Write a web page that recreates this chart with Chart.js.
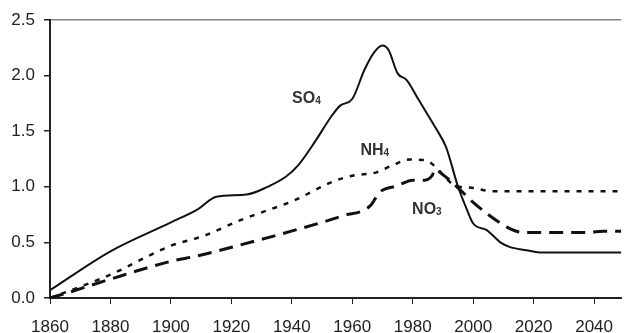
<!DOCTYPE html>
<html>
<head>
<meta charset="utf-8">
<script src="https://cdn.jsdelivr.net/npm/chart.js@4/dist/chart.umd.min.js"></script>
<style>
html, body { margin: 0; padding: 0; background: #fff; }
#wrap { width: 626px; height: 333px; position: relative; }
</style>
</head>
<body>
<div id="wrap"><canvas id="ionChart"></canvas></div>
<script>
// values
const so4Years = [1860, 1880, 1900, 1909, 1915, 1925, 1932, 1938, 1942, 1948, 1953, 1956, 1960, 1964, 1967, 1970, 1972, 1975, 1978, 1982, 1988, 1991, 1995, 1998, 2000, 2004.5, 2006.6, 2009, 2012, 2017.6, 2022, 2049];
const so4Values = [0.07, 0.42, 0.68, 0.80, 0.91, 0.93, 1.00, 1.09, 1.19, 1.42, 1.63, 1.73, 1.79, 2.05, 2.20, 2.27, 2.23, 2.02, 1.96, 1.78, 1.51, 1.36, 1.00, 0.79, 0.67, 0.61, 0.56, 0.50, 0.46, 0.43, 0.41, 0.41];

const nh4Years = [1860, 1865, 1880, 1900, 1911, 1923, 1929, 1941, 1953, 1960, 1968, 1973, 1979, 1984, 1987.5, 1990, 1994, 2000, 2006, 2049];
const nh4Values = [0.0, 0.05, 0.21, 0.47, 0.56, 0.70, 0.76, 0.88, 1.04, 1.10, 1.13, 1.19, 1.245, 1.24, 1.18, 1.11, 1.01, 0.99, 0.96, 0.96];

const no3Years = [1860, 1865, 1880, 1900, 1909, 1922, 1941, 1957, 1966, 1969, 1975, 1980, 1984, 1986.4, 1987.5, 1989, 1993.5, 2000, 2005.5, 2011, 2014.3, 2017, 2038, 2043, 2049];
const no3Values = [0.0, 0.04, 0.17, 0.33, 0.38, 0.47, 0.61, 0.74, 0.83, 0.95, 1.01, 1.06, 1.06, 1.10, 1.16, 1.13, 1.03, 0.86, 0.74, 0.64, 0.60, 0.59, 0.59, 0.60, 0.60];

const xTicks = [1860, 1880, 1900, 1920, 1940, 1960, 1980, 2000, 2020, 2040];
const yTicks = [0, 0.5, 1.0, 1.5, 2.0, 2.5];

// series labels: main text, subscript, and the data point of their left baseline
const seriesLabels = [
  { main: 'SO', sub: '4', year: 1940.1, value: 1.752 },
  { main: 'NH', sub: '4', year: 1962.7, value: 1.284 },
  { main: 'NO', sub: '3', year: 1979.8, value: 0.752 }
];

function toPoints(xs, ys) {
  return xs.map(function(x, i) { return { x: x, y: ys[i] }; });
}

const labelPlugin = {
  id: 'seriesLabels',
  afterDatasetsDraw: function(chart) {
    var ctx = chart.ctx;
    var xs = chart.scales.x, ys = chart.scales.y;
    ctx.save();
    ctx.fillStyle = '#333';
    ctx.textBaseline = 'alphabetic';
    ctx.textAlign = 'left';
    seriesLabels.forEach(function(l) {
      var px = xs.getPixelForValue(l.year);
      var py = ys.getPixelForValue(l.value);
      ctx.font = 'bold 16px "Liberation Sans", Arial, sans-serif';
      ctx.fillText(l.main, px, py);
      var w = ctx.measureText(l.main).width;
      ctx.font = 'bold 10px "Liberation Sans", Arial, sans-serif';
      ctx.fillText(l.sub, px + w, py + 1);
    });
    ctx.restore();
  }
};

const ctx = document.getElementById('ionChart').getContext('2d');
new Chart(ctx, {
  type: 'line',
  data: {
    datasets: [
      { label: 'SO4', data: toPoints(so4Years, so4Values), borderColor: '#111', borderWidth: 2, pointRadius: 0, cubicInterpolationMode: 'monotone', fill: false },
      { label: 'NH4', data: toPoints(nh4Years, nh4Values), borderColor: '#111', borderWidth: 2.5, borderDash: [5, 7], pointRadius: 0, cubicInterpolationMode: 'monotone', fill: false },
      { label: 'NO3', data: toPoints(no3Years, no3Values), borderColor: '#111', borderWidth: 3, borderDash: [14, 8], pointRadius: 0, cubicInterpolationMode: 'monotone', fill: false }
    ]
  },
  options: {
    responsive: true, maintainAspectRatio: false, animation: false,
    layout: { padding: { top: 20, right: 0, left: 0, bottom: 0 } },
    plugins: { legend: { display: false }, tooltip: { enabled: false } },
    scales: {
      x: {
        type: 'linear', min: 1860, max: 2049,
        afterBuildTicks: function(s) { s.ticks = xTicks.map(function(v) { return { value: v }; }); },
        afterFit: function(s) { s.height = 35; },
        border: { display: true, color: '#222', width: 2 },
        grid: { drawOnChartArea: false, drawTicks: true, tickLength: 6, color: '#222', tickColor: '#222' },
        ticks: { color: '#222', padding: 13, maxRotation: 0, font: { size: 17, family: '"Liberation Sans", Arial, sans-serif' }, callback: function(v) { return String(v); } }
      },
      y: {
        min: 0, max: 2.5,
        afterBuildTicks: function(s) { s.ticks = yTicks.map(function(v) { return { value: v }; }); },
        afterFit: function(s) { s.width = 50; },
        border: { display: true, color: '#222', width: 2 },
        grid: {
          drawOnChartArea: true, tickLength: 6, tickColor: '#222', lineWidth: 1.5,
          color: function(c) { return c.tick && c.tick.value === 2.5 ? '#888' : 'rgba(0,0,0,0)'; }
        },
        ticks: { color: '#222', padding: 9, font: { size: 17, family: '"Liberation Sans", Arial, sans-serif' }, callback: function(v) { return Number(v).toFixed(1); } }
      }
    }
  },
  plugins: [labelPlugin]
});
</script>
</body>
</html>
